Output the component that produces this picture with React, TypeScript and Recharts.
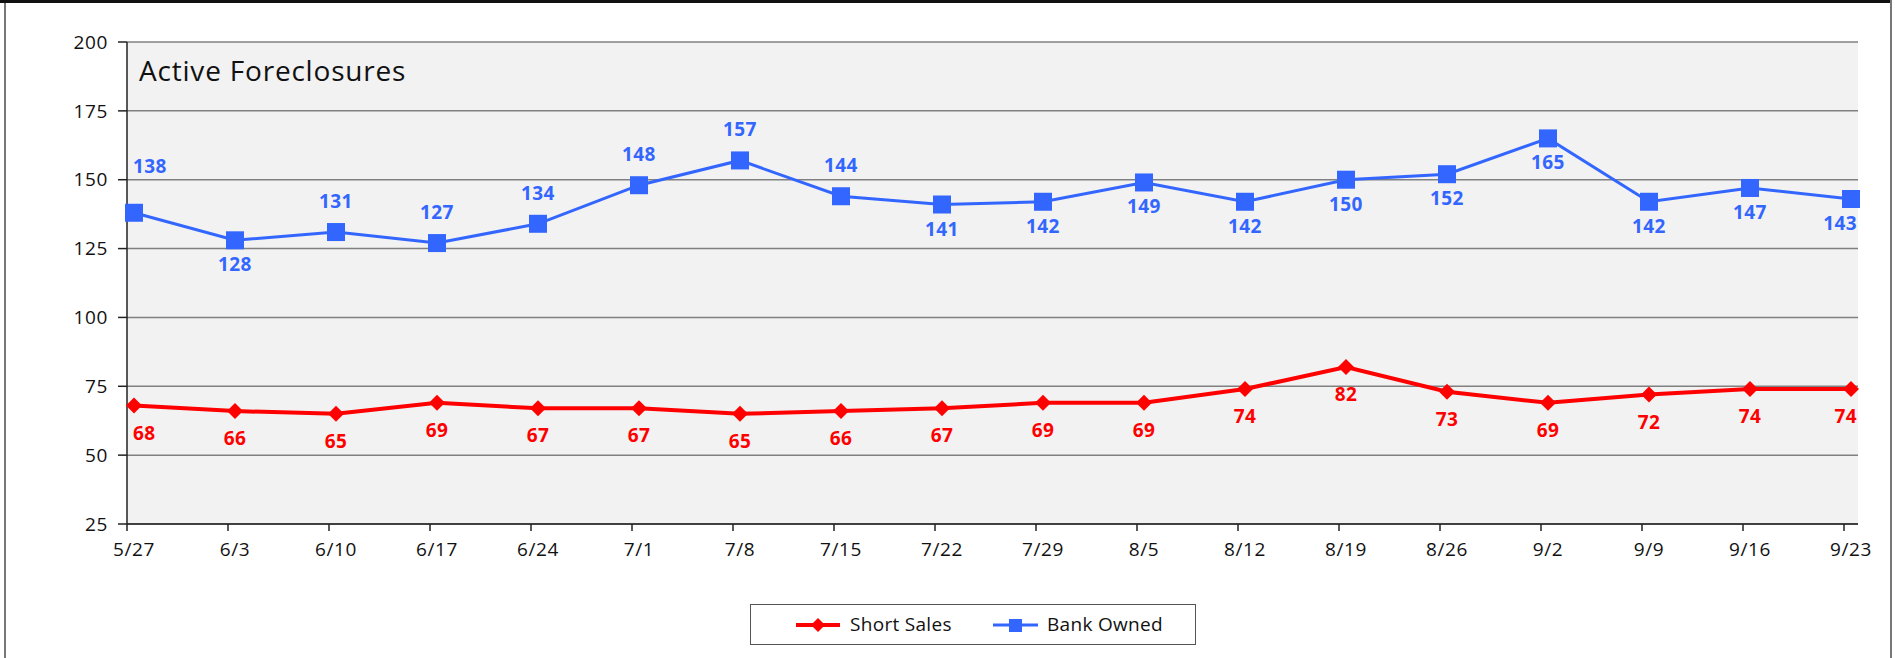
import { LineChart, Line, XAxis, YAxis, CartesianGrid } from 'recharts';

const weeks = ['5/27', '6/3', '6/10', '6/17', '6/24', '7/1', '7/8', '7/15', '7/22', '7/29', '8/5', '8/12', '8/19', '8/26', '9/2', '9/9', '9/16', '9/23'];
const shortSales = [68, 66, 65, 69, 67, 67, 65, 66, 67, 69, 69, 74, 82, 73, 69, 72, 74, 74];
const bankOwned = [138, 128, 131, 127, 134, 148, 157, 144, 141, 142, 149, 142, 150, 152, 165, 142, 147, 143];
const yTicks = [25, 50, 75, 100, 125, 150, 175, 200];

// which Bank Owned labels sit above their point (the rest go below)
const bankAbove = [true, false, true, true, true, true, true, true, false, false, false, false, false, false, false, false, false, false];

const RED = '#FF0000';
const BLUE = '#3366FF';
const FONT = '"Open Sans", Lato, sans-serif';

const data = weeks.map((w, i) => ({ week: w, short: shortSales[i], bank: bankOwned[i] }));

const Diamond = (props: any) => {
  const { cx, cy, fill } = props;
  if (cx == null || cy == null) return null;
  return <path d={`M${cx},${cy - 8}L${cx + 8},${cy}L${cx},${cy + 8}L${cx - 8},${cy}Z`} fill={fill} />;
};

const Square = (props: any) => {
  const { cx, cy, fill } = props;
  if (cx == null || cy == null) return null;
  return <rect x={cx - 9} y={cy - 9} width={18} height={18} fill={fill} />;
};

const pickAnchor = (index: number) => (index === 0 ? 'start' : index === weeks.length - 1 ? 'end' : 'middle');
const shiftX = (index: number) => (index === 0 ? -1 : index === weeks.length - 1 ? 6 : 0);

const bankLabel = (props: any) => {
  const { x, y, value, index } = props;
  const dy = bankAbove[index] ? (index === 0 ? -40 : -24) : 31;
  return (
    <text key={`b${index}`} x={x + shiftX(index)} y={y + dy} textAnchor={pickAnchor(index)} fill={BLUE}
      fontFamily={FONT} fontWeight={700} fontSize={19} letterSpacing={0.4}>
      {value}
    </text>
  );
};

const shortLabel = (props: any) => {
  const { x, y, value, index } = props;
  return (
    <text key={`s${index}`} x={x + shiftX(index)} y={y + 34} textAnchor={pickAnchor(index)} fill={RED}
      fontFamily={FONT} fontWeight={700} fontSize={19} letterSpacing={0.4}>
      {value}
    </text>
  );
};

const WeekTick = (props: any) => {
  const { x, y, payload } = props;
  return (
    <g>
      <line x1={x - 7} x2={x - 7} y1={y} y2={y + 7} stroke="#222" strokeWidth={1.5} />
      <text x={x} y={y + 32} textAnchor="middle" fill="#111" fontFamily={FONT} fontSize={19} letterSpacing={0.6}>
        {payload.value}
      </text>
    </g>
  );
};

export default function App() {
  return (
    <div style={{ position: 'absolute', left: 0, top: 0, width: 1895, height: 658, background: '#fff', fontFamily: FONT }}>
      {/* frame */}
      <div style={{ position: 'absolute', left: 0, top: 0, width: 1892, height: 3, background: '#111' }} />
      <div style={{ position: 'absolute', left: 4, top: 3, width: 1.5, height: 655, background: '#777' }} />
      <div style={{ position: 'absolute', left: 1890, top: 0, width: 1.5, height: 658, background: '#777' }} />

      <div style={{ position: 'absolute', left: 0, top: 0 }}>
        <LineChart width={1895} height={658} data={data} margin={{ top: 42, right: 37, left: 67, bottom: 104 }}>
          <CartesianGrid vertical={false} stroke="#808080" strokeWidth={1.5} fill="#F2F2F2" fillOpacity={1} />
          <XAxis dataKey="week" padding={{ left: 7, right: 7 }} stroke="#222" strokeWidth={1.5}
            tickLine={false} tickSize={0} tickMargin={0} height={30} interval={0} tick={<WeekTick />} />
          <YAxis domain={[25, 200]} ticks={yTicks} width={60} stroke="#222" strokeWidth={1.5}
            tickSize={9} tickMargin={10} tick={{ fill: '#111', fontSize: 19, fontFamily: FONT, letterSpacing: 0.6 }} />
          <YAxis yAxisId="r" orientation="right" domain={[25, 200]} width={0} stroke="#808080" strokeWidth={2}
            tick={false} tickLine={false} />
          <Line dataKey="bank" stroke={BLUE} strokeWidth={3} fill={BLUE} isAnimationActive={false}
            dot={<Square fill={BLUE} />} activeDot={false} label={bankLabel} />
          <Line dataKey="short" stroke={RED} strokeWidth={4} fill={RED} isAnimationActive={false}
            dot={<Diamond fill={RED} />} activeDot={false} label={shortLabel} />
        </LineChart>
      </div>

      <div style={{ position: 'absolute', left: 139, top: 51, fontSize: 28, fontWeight: 500, letterSpacing: 0.8, color: '#111', whiteSpace: 'nowrap' }}>
        Active Foreclosures
      </div>

      {/* legend */}
      <div style={{ position: 'absolute', left: 750, top: 604, width: 446, height: 41, border: '1px solid #555', boxSizing: 'border-box' }}>
        <svg width={446} height={41} style={{ position: 'absolute', left: 0, top: 0 }}>
          <line x1={45} x2={89} y1={20} y2={20} stroke={RED} strokeWidth={4} />
          <path d="M67,13L74,20L67,27L60,20Z" fill={RED} />
          <text x={99} y={26} fontFamily={FONT} fontSize={19} fill="#111" letterSpacing={0.3}>Short Sales</text>
          <line x1={242} x2={287} y1={20} y2={20} stroke={BLUE} strokeWidth={3} />
          <rect x={258} y={14} width={13} height={13} fill={BLUE} />
          <text x={296} y={26} fontFamily={FONT} fontSize={19} fill="#111" letterSpacing={0.3}>Bank Owned</text>
        </svg>
      </div>
    </div>
  );
}
